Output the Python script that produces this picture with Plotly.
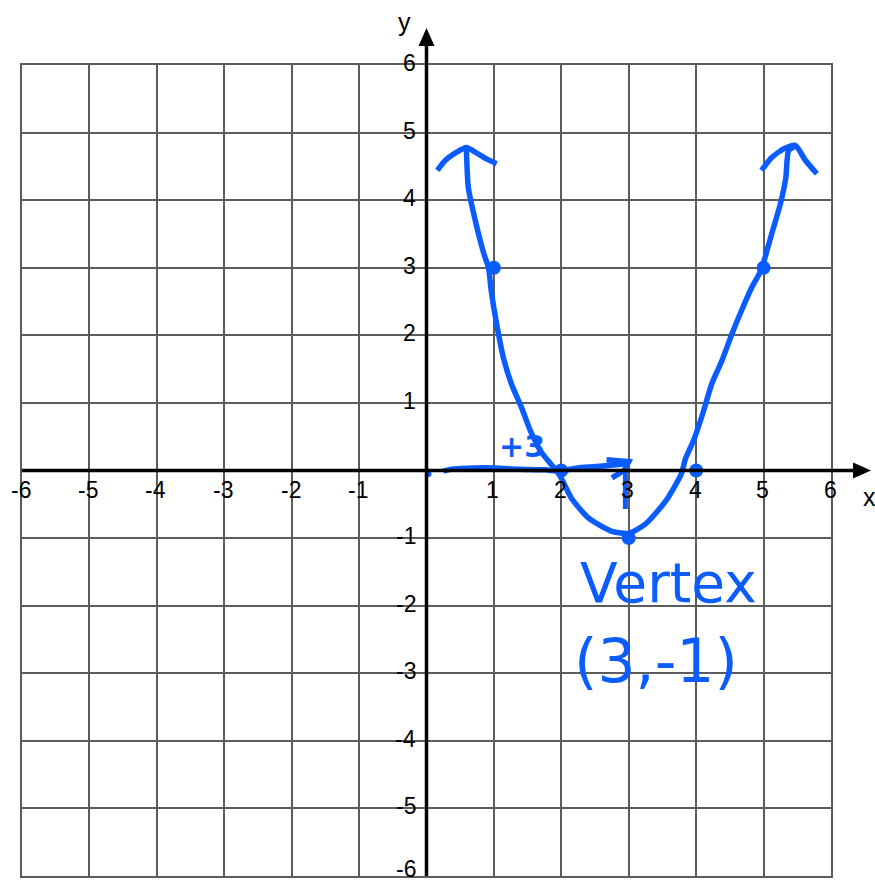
import plotly.graph_objects as go

# Coordinate grid: tick values and their labels
tick_values = [-6, -5, -4, -3, -2, -1, 1, 2, 3, 4, 5, 6]
tick_labels = ["-6", "-5", "-4", "-3", "-2", "-1", "1", "2", "3", "4", "5", "6"]

# Sketched parabola y = (x - 3)^2 - 1, traced tip to tip
curve_x = [0.59, 0.62, 0.70, 0.85, 0.92, 0.96, 1.04, 1.14, 1.26, 1.41, 1.54, 1.69, 1.84,
           1.96, 2.15, 2.40, 2.75, 3.00, 3.25, 3.55, 3.78, 3.84, 3.96, 4.11, 4.23, 4.38,
           4.53, 4.67, 4.82, 4.96, 5.12, 5.25, 5.33, 5.37, 5.47]
curve_y = [4.78, 4.19, 3.80, 3.21, 3.00, 2.66, 2.17, 1.67, 1.28, 0.93, 0.59, 0.29, 0.10,
           -0.04, -0.41, -0.70, -0.90, -0.93, -0.79, -0.45, -0.05, 0.17, 0.44, 0.88, 1.28, 1.62,
           2.02, 2.36, 2.70, 2.96, 3.50, 3.95, 4.33, 4.73, 4.80]

# Arrow caps at both ends of the parabola
left_cap_x = [0.16, 0.28, 0.43, 0.59, 0.74, 0.89, 1.04]
left_cap_y = [4.44, 4.59, 4.70, 4.78, 4.70, 4.61, 4.54]
right_cap_x = [4.97, 5.12, 5.30, 5.47, 5.62, 5.79]
right_cap_y = [4.44, 4.63, 4.76, 4.81, 4.59, 4.39]

# Table points on the parabola
point_x = [1, 2, 3, 4, 5]
point_y = [3, 0, -1, 0, 3]

# Horizontal shift of +3 from the origin
shift_x = [0.25, 0.37, 0.88, 1.37, 1.77, 1.96, 2.26, 2.66, 2.95]
shift_y = [-0.01, 0.02, 0.04, 0.02, 0.01, -0.01, 0.04, 0.07, 0.10]
shift_head_x = [2.67, 3.00, 2.93, 2.75]
shift_head_y = [0.16, 0.13, 0.00, -0.11]
shift_tick_x = [2.95, 2.95]
shift_tick_y = [-0.01, -0.57]

INK = "#0b5cff"
GRID = "#5c5c5c"

W, H = 875, 884
L, R, T, B = 22, 44, 65, 8


def px(x):
    return (x - L) / (W - L - R)


def py(y):
    return (H - B - y) / (H - T - B)


fig = go.Figure()

pen = dict(color=INK, width=5.5, shape="spline", smoothing=0.6)
fig.add_trace(go.Scatter(x=curve_x, y=curve_y, mode="lines", line=pen, cliponaxis=False))
fig.add_trace(go.Scatter(x=left_cap_x, y=left_cap_y, mode="lines", line=pen, cliponaxis=False))
fig.add_trace(go.Scatter(x=right_cap_x, y=right_cap_y, mode="lines", line=pen, cliponaxis=False))
fig.add_trace(go.Scatter(x=shift_x, y=shift_y, mode="lines", line=pen, cliponaxis=False))
fig.add_trace(go.Scatter(x=shift_head_x, y=shift_head_y, mode="lines",
                         line=dict(color=INK, width=5.5), cliponaxis=False))
fig.add_trace(go.Scatter(x=shift_tick_x, y=shift_tick_y, mode="lines",
                         line=dict(color=INK, width=5), cliponaxis=False))
fig.add_trace(go.Scatter(x=[0.03], y=[-0.05], mode="markers",
                         marker=dict(color=INK, size=6), cliponaxis=False))
fig.add_trace(go.Scatter(x=point_x, y=point_y, mode="markers",
                         marker=dict(color=INK, size=14), cliponaxis=False))

# Axes drawn through the origin, extended past the grid with arrowheads
cx, cy = 0.5, 0.5
shapes = [
    dict(type="line", xref="paper", yref="paper", x0=0, x1=px(858), y0=cy, y1=cy,
         line=dict(color="black", width=3.5), layer="above"),
    dict(type="path", xref="paper", yref="paper", fillcolor="black", line=dict(width=0),
         path=f"M {px(871)} {cy} L {px(853)} {cy + 8 / 811} L {px(853)} {cy - 8 / 811} Z"),
    dict(type="line", xref="paper", yref="paper", x0=cx, x1=cx, y0=0, y1=py(42),
         line=dict(color="black", width=3.5), layer="above"),
    dict(type="path", xref="paper", yref="paper", fillcolor="black", line=dict(width=0),
         path=f"M {cx} {py(28)} L {cx - 8 / 809} {py(46)} L {cx + 8 / 809} {py(46)} Z"),
]

tick_font = dict(family="Liberation Sans, Arial, sans-serif", size=23, color="black")
annotations = []
for v, lab in zip(tick_values, tick_labels):
    annotations.append(dict(x=v, y=0, xref="x", yref="y", text=lab, showarrow=False,
                            font=tick_font, xanchor="center", yanchor="middle",
                            xshift=-1, yshift=-19))
    # the lowest label sits on the bottom edge, so anchor it from below
    bottom = v == min(tick_values)
    annotations.append(dict(x=0, y=v, xref="x", yref="y", text=lab, showarrow=False,
                            font=tick_font, xanchor="right",
                            yanchor="bottom" if bottom else "middle",
                            xshift=-9, yshift=-8 if bottom else 2))

annotations += [
    dict(x=px(404), y=py(22), xref="paper", yref="paper", text="y", showarrow=False,
         font=dict(family="Liberation Sans, Arial, sans-serif", size=25, color="black"),
         xanchor="center", yanchor="middle"),
    dict(x=px(869), y=py(497), xref="paper", yref="paper", text="x", showarrow=False,
         font=dict(family="Liberation Sans, Arial, sans-serif", size=25, color="black"),
         xanchor="center", yanchor="middle"),
    dict(x=1.41, y=0.35, xref="x", yref="y", text="<b>+3</b>", showarrow=False,
         font=dict(family="DejaVu Sans", size=30, color=INK),
         xanchor="center", yanchor="middle"),
    dict(x=3.59, y=-1.67, xref="x", yref="y", text="Vertex", showarrow=False,
         font=dict(family="DejaVu Sans", size=55, color=INK),
         xanchor="center", yanchor="middle"),
    dict(x=3.40, y=-2.82, xref="x", yref="y", text="(3,-1)", showarrow=False,
         font=dict(family="DejaVu Sans", size=60, color=INK),
         xanchor="center", yanchor="middle"),
]

axis_common = dict(range=[-6, 6], dtick=1, tick0=0, showgrid=True, gridcolor=GRID,
                   gridwidth=2, zeroline=False, showticklabels=False, ticks="",
                   showline=True, mirror=True, linecolor=GRID, linewidth=2,
                   fixedrange=True)

fig.update_layout(
    width=W, height=H,
    margin=dict(l=L, r=R, t=T, b=B, pad=0),
    paper_bgcolor="white", plot_bgcolor="white",
    showlegend=False,
    xaxis=axis_common,
    yaxis=axis_common,
    shapes=shapes,
    annotations=annotations,
)

fig.write_html("out.html")
